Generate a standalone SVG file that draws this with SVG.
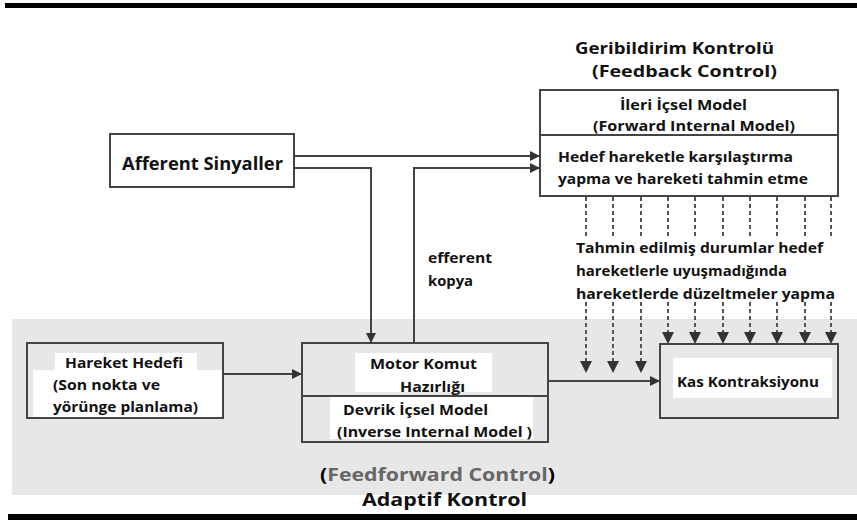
<svg xmlns="http://www.w3.org/2000/svg" width="857" height="520" viewBox="0 0 857 520">
<style>
text{font-family:"Open Sans","Noto Sans","Liberation Sans",sans-serif;font-weight:bold;fill:#111;}
.t{font-size:15px;}
.box{fill:none;stroke:#444;stroke-width:2;}
.ln{fill:none;stroke:#444;stroke-width:2;}
.dash{fill:none;stroke:#555;stroke-width:2;stroke-dasharray:4 3;}
.wb{fill:#fff;}
</style>
<defs>
<marker id="ah" viewBox="0 0 10 10" refX="10" refY="5" markerWidth="12" markerHeight="10" markerUnits="userSpaceOnUse" orient="auto">
<path d="M0,0 L10,5 L0,10 Z" fill="#333"/>
</marker>
</defs>
<rect x="0" y="0" width="857" height="520" fill="#fff"/>
<rect x="5" y="3" width="852" height="5" fill="#000"/>
<rect x="12" y="319" width="845" height="176" fill="#e7e7e7"/>
<rect x="8" y="514" width="849" height="6" fill="#000"/>

<g id="titles">
<text x="575" y="54" font-size="16.5" textLength="199" lengthAdjust="spacingAndGlyphs">Geribildirim Kontrolü</text>
<text x="592" y="77" font-size="16.5" textLength="185" lengthAdjust="spacingAndGlyphs">(Feedback Control)</text>
<text x="320" y="481" font-size="18" textLength="235" lengthAdjust="spacingAndGlyphs"><tspan fill="#000">(</tspan><tspan fill="#666">Feedforward Control</tspan><tspan fill="#000">)</tspan></text>
<text x="362" y="506" font-size="18" textLength="165" lengthAdjust="spacingAndGlyphs">Adaptif Kontrol</text>
</g>

<g id="feedback">
<rect x="540" y="90" width="298" height="106" fill="#fff" class="box"/>
<line x1="540" y1="135" x2="838" y2="135" class="ln"/>
<text x="620" y="110" font-size="14.5" textLength="127" lengthAdjust="spacingAndGlyphs">İleri İçsel Model</text>
<text x="593" y="131" font-size="14.5" textLength="202" lengthAdjust="spacingAndGlyphs">(Forward Internal Model)</text>
<text x="558" y="162" class="t" textLength="235" lengthAdjust="spacingAndGlyphs">Hedef hareketle karşılaştırma</text>
<text x="558" y="184" class="t" textLength="250" lengthAdjust="spacingAndGlyphs">yapma ve hareketi tahmin etme</text>
</g>

<g id="afferent">
<rect x="110" y="134" width="184" height="53" fill="#fff" class="box"/>
<text x="122" y="170" font-size="18" textLength="161" lengthAdjust="spacingAndGlyphs">Afferent Sinyaller</text>
</g>

<g id="hareket">
<rect x="27" y="343" width="196" height="75" fill="#e7e7e7" class="box"/>
<rect x="55" y="353" width="142" height="17" class="wb"/>
<rect x="33" y="370" width="189" height="47" class="wb"/>
<text x="65" y="368" class="t" textLength="118" lengthAdjust="spacingAndGlyphs">Hareket Hedefi</text>
<text x="53" y="390" class="t" textLength="107" lengthAdjust="spacingAndGlyphs">(Son nokta ve</text>
<text x="53" y="412" class="t" textLength="145" lengthAdjust="spacingAndGlyphs">yörünge planlama)</text>
</g>

<g id="motor">
<rect x="302" y="343" width="246" height="99" fill="#e7e7e7" class="box"/>
<rect x="355" y="353" width="137" height="39" class="wb"/>
<rect x="330" y="397" width="203" height="42" class="wb"/>
<line x1="302" y1="396" x2="548" y2="396" class="ln"/>
<text x="370" y="369" class="t" textLength="107" lengthAdjust="spacingAndGlyphs">Motor Komut</text>
<text x="400" y="392" class="t" textLength="65" lengthAdjust="spacingAndGlyphs">Hazırlığı</text>
<text x="343" y="415" class="t" textLength="145" lengthAdjust="spacingAndGlyphs">Devrik İçsel Model</text>
<text x="337" y="437" class="t" textLength="195" lengthAdjust="spacingAndGlyphs">(Inverse Internal Model )</text>
</g>

<g id="kas">
<rect x="660" y="344" width="178" height="74" fill="#efefef" class="box"/>
<rect x="673" y="358" width="159" height="40" class="wb"/>
<text x="677" y="387" class="t" textLength="142" lengthAdjust="spacingAndGlyphs">Kas Kontraksiyonu</text>
</g>

<g id="efferent-label">
<text x="428" y="263" class="t" textLength="64" lengthAdjust="spacingAndGlyphs">efferent</text>
<text x="428" y="286" class="t" textLength="45" lengthAdjust="spacingAndGlyphs">kopya</text>
</g>

<g id="connectors">
<line x1="294" y1="156" x2="540" y2="156" class="ln" marker-end="url(#ah)"/>
<polyline points="294,168 371,168 371,343" class="ln" marker-end="url(#ah)"/>
<polyline points="414,343 414,168 540,168" class="ln" marker-end="url(#ah)"/>
<line x1="223" y1="374" x2="302" y2="374" class="ln" marker-end="url(#ah)"/>
<line x1="548" y1="381" x2="660" y2="381" class="ln" marker-end="url(#ah)"/>
<g class="dash">
<line x1="586" y1="197" x2="586" y2="372"/>
<line x1="613" y1="197" x2="613" y2="372"/>
<line x1="641" y1="197" x2="641" y2="372"/>
<line x1="668" y1="197" x2="668" y2="343"/>
<line x1="695" y1="197" x2="695" y2="343"/>
<line x1="723" y1="197" x2="723" y2="343"/>
<line x1="750" y1="197" x2="750" y2="343"/>
<line x1="777" y1="197" x2="777" y2="343"/>
<line x1="805" y1="197" x2="805" y2="343"/>
<line x1="831" y1="197" x2="831" y2="343"/>
</g>
<g fill="#333">
<path d="M580,361 L592,361 L586,373 Z"/>
<path d="M607,361 L619,361 L613,373 Z"/>
<path d="M635,361 L647,361 L641,373 Z"/>
<path d="M662,332 L674,332 L668,344 Z"/>
<path d="M689,332 L701,332 L695,344 Z"/>
<path d="M717,332 L729,332 L723,344 Z"/>
<path d="M744,332 L756,332 L750,344 Z"/>
<path d="M771,332 L783,332 L777,344 Z"/>
<path d="M799,332 L811,332 L805,344 Z"/>
<path d="M825,332 L837,332 L831,344 Z"/>
</g>
</g>

<g id="correction-label">
<rect x="572" y="236" width="265" height="66" class="wb"/>
<text x="576" y="253" class="t" textLength="247" lengthAdjust="spacingAndGlyphs">Tahmin edilmiş durumlar hedef</text>
<text x="576" y="276" class="t" textLength="211" lengthAdjust="spacingAndGlyphs">hareketlerle uyuşmadığında</text>
<text x="576" y="299" class="t" textLength="259" lengthAdjust="spacingAndGlyphs">hareketlerde düzeltmeler yapma</text>
</g>
</svg>
